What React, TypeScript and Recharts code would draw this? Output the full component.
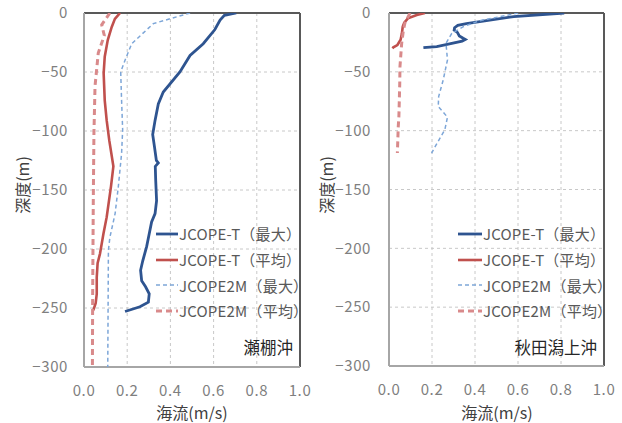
import React from "react"
import { ScatterChart, Scatter, XAxis, YAxis, CartesianGrid, ReferenceLine, Legend } from "recharts"

// [depth (m), current speed (m/s)]
type Pt = [number, number]

const speedTicks = [0, 0.2, 0.4, 0.6, 0.8, 1.0]
const depthTicks = [-300, -250, -200, -150, -100, -50, 0]
const seriesNames = ["JCOPE-T（最大）", "JCOPE-T（平均）", "JCOPE2M（最大）", "JCOPE2M（平均）"]

// 瀬棚沖
const setanaTMax: Pt[] = [
  [0, 0.705], [-2, 0.65], [-6, 0.63], [-14, 0.606], [-26, 0.552], [-36, 0.491], [-50, 0.444],
  [-67, 0.367], [-77, 0.344], [-91, 0.329], [-103, 0.318], [-113, 0.326], [-125, 0.335],
  [-127, 0.344], [-130, 0.33], [-142, 0.332], [-159, 0.336], [-170, 0.329], [-177, 0.313],
  [-187, 0.302], [-198, 0.29], [-210, 0.272], [-218, 0.262], [-227, 0.267], [-232, 0.285],
  [-238, 0.302], [-245, 0.298], [-249, 0.259], [-253, 0.19],
]
const setanaTMean: Pt[] = [
  [0, 0.167], [-5, 0.143], [-12, 0.128], [-23, 0.11], [-37, 0.096], [-51, 0.091], [-74, 0.096],
  [-91, 0.105], [-108, 0.117], [-130, 0.136], [-147, 0.125], [-173, 0.105], [-187, 0.09],
  [-204, 0.074], [-212, 0.063], [-224, 0.059], [-238, 0.059], [-246, 0.054], [-252, 0.043],
]
const setana2MMax: Pt[] = [
  [0, 0.491], [-9, 0.321], [-26, 0.221], [-40, 0.19], [-50, 0.17], [-74, 0.174], [-99, 0.179],
  [-119, 0.174], [-147, 0.159], [-170, 0.144], [-190, 0.12], [-201, 0.113], [-300, 0.11],
]
const setana2MMean: Pt[] = [
  [0, 0.12], [-10, 0.082], [-19, 0.094], [-34, 0.066], [-62, 0.051], [-102, 0.046],
  [-159, 0.043], [-243, 0.04], [-300, 0.039],
]

// 秋田潟上沖
const akitaTMax: Pt[] = [
  [0, 0.815], [-3, 0.58], [-9, 0.36], [-10.5, 0.32], [-12.5, 0.305], [-14.5, 0.303],
  [-16.5, 0.318], [-19.5, 0.327], [-21.5, 0.345], [-22.5, 0.355], [-24, 0.34], [-26.5, 0.276],
  [-28.5, 0.222], [-29.5, 0.16],
]
const akitaTMean: Pt[] = [
  [0, 0.167], [-1.7, 0.129], [-4.5, 0.088], [-8.2, 0.071], [-11.6, 0.064], [-17.3, 0.06],
  [-22.7, 0.054], [-27.2, 0.039], [-29.2, 0.02], [-30, 0.016],
]
const akita2MMax: Pt[] = [
  [0, 0.601], [-6.5, 0.423], [-11.6, 0.346], [-17.3, 0.292], [-25.7, 0.265], [-39.8, 0.272],
  [-57, 0.252], [-71, 0.231], [-79.5, 0.229], [-88.5, 0.272], [-99, 0.26], [-119, 0.198],
]
const akita2MMean: Pt[] = [
  [0, 0.098], [-8.5, 0.074], [-14.5, 0.067], [-25.7, 0.059], [-45.6, 0.051], [-59.8, 0.05],
  [-88, 0.046], [-96.7, 0.043], [-119, 0.039],
]

const seriesStyles = [
  { color: "#2E5490", width: 2.8, dash: undefined as string | undefined },
  { color: "#C0504D", width: 2.6, dash: undefined as string | undefined },
  { color: "#7DA6D8", width: 1.5, dash: "4 3" },
  { color: "#D98A8B", width: 3, dash: "6 4" },
]

const FONT = "'Noto Sans CJK JP', 'Noto Sans', sans-serif"

const toXY = (pts: Pt[]) => pts.map(([depth, speed]) => ({ x: speed, y: depth }))

const fmtDepth = (v: number) => (v < 0 ? "\u2212" + Math.abs(v) : String(v))

const PanelLegend = ({ iconWidth }: { iconWidth: number }) => (
  <div style={{ fontFamily: FONT }}>
    {seriesNames.map((name, i) => {
      const s = seriesStyles[i]
      return (
        <div key={name} style={{ display: "flex", alignItems: "center", height: 25.7 }}>
          <svg width={iconWidth} height={6} style={{ marginRight: 1 }}>
            <line x1={0} y1={3} x2={iconWidth} y2={3} stroke={s.color} strokeWidth={s.width} strokeDasharray={s.dash} />
          </svg>
          <span style={{ fontSize: 15, color: "#595959", whiteSpace: "nowrap", letterSpacing: 0.2 }}>{name}</span>
        </div>
      )
    })}
  </div>
)

interface PanelProps {
  series: Pt[][]
  yAxisWidth: number
  marginRight: number
  marginBottom: number
  tickGap: number
  legendLeft: number
  iconWidth: number
}

const Panel = ({ series, yAxisWidth, marginRight, marginBottom, tickGap, legendLeft, iconWidth }: PanelProps) => (
  <ScatterChart width={311} height={423} margin={{ top: 13, right: marginRight, bottom: marginBottom, left: 0 }}>
    <CartesianGrid stroke="#C8C8C8" strokeDasharray="3 3" />
    <XAxis
      type="number"
      dataKey="x"
      domain={[0, 1]}
      ticks={speedTicks}
      tickFormatter={(v: number) => v.toFixed(1)}
      height={30}
      tickSize={0}
      tickMargin={18}
      axisLine={{ stroke: "#A6A6A6", strokeWidth: 2 }}
      tick={{ fill: "#7F7F7F", fontSize: 15, fontFamily: FONT, letterSpacing: 0.6 }}
      allowDataOverflow
    />
    <YAxis
      type="number"
      dataKey="y"
      domain={[-300, 0]}
      ticks={depthTicks}
      tickFormatter={fmtDepth}
      width={yAxisWidth}
      tickSize={0}
      tickMargin={tickGap}
      axisLine={{ stroke: "#A6A6A6", strokeWidth: 2 }}
      tick={{ fill: "#7F7F7F", fontSize: 15, fontFamily: FONT, letterSpacing: 0.6 }}
      allowDataOverflow
    />
    <ReferenceLine y={0} stroke="#595959" strokeWidth={2} />
    <ReferenceLine x={1} stroke="#595959" strokeWidth={2} />
    {series.map((pts, i) => (
      <Scatter
        key={seriesNames[i]}
        name={seriesNames[i]}
        data={toXY(pts)}
        fill={seriesStyles[i].color}
        line={{ stroke: seriesStyles[i].color, strokeWidth: seriesStyles[i].width, strokeDasharray: seriesStyles[i].dash }}
        lineJointType="linear"
        shape={() => <g />}
        isAnimationActive={false}
      />
    ))}
    <Legend
      layout="vertical"
      align="center"
      verticalAlign="middle"
      wrapperStyle={{ left: legendLeft, top: 221, width: "auto" }}
      content={() => <PanelLegend iconWidth={iconWidth} />}
    />
  </ScatterChart>
)

const textBase: React.CSSProperties = { position: "absolute", fontFamily: FONT, whiteSpace: "nowrap", lineHeight: 1 }

export default function App() {
  return (
    <div style={{ position: "absolute", left: 0, top: 0, width: 622, height: 423, background: "#fff" }}>
      <div style={{ position: "absolute", left: 0, top: 0 }}>
        <Panel
          series={[setanaTMax, setanaTMean, setana2MMax, setana2MMean]}
          yAxisWidth={84}
          marginRight={11}
          marginBottom={26}
          tickGap={16}
          legendLeft={156}
          iconWidth={22}
        />
      </div>
      <div style={{ position: "absolute", left: 311, top: 0 }}>
        <Panel
          series={[akitaTMax, akitaTMean, akita2MMax, akita2MMean]}
          yAxisWidth={78}
          marginRight={18}
          marginBottom={27}
          tickGap={18}
          legendLeft={147}
          iconWidth={24}
        />
      </div>

      {/* station labels */}
      <div style={{ ...textBase, right: 622 - 293, top: 339, fontSize: 16.5, color: "#262626" }}>瀬棚沖</div>
      <div style={{ ...textBase, right: 622 - 597, top: 339, fontSize: 16.5, color: "#262626" }}>秋田潟上沖</div>

      {/* axis titles */}
      <div style={{ ...textBase, left: 192, top: 412, fontSize: 16, color: "#404040", transform: "translate(-50%, -50%)" }}>海流(m/s)</div>
      <div style={{ ...textBase, left: 497, top: 412, fontSize: 16, color: "#404040", transform: "translate(-50%, -50%)" }}>海流(m/s)</div>
      <div style={{ ...textBase, left: 22, top: 185, fontSize: 16, color: "#404040", transform: "translate(-50%, -50%) rotate(-90deg)" }}>深度(m)</div>
      <div style={{ ...textBase, left: 326, top: 185, fontSize: 16, color: "#404040", transform: "translate(-50%, -50%) rotate(-90deg)" }}>深度(m)</div>
    </div>
  )
}
